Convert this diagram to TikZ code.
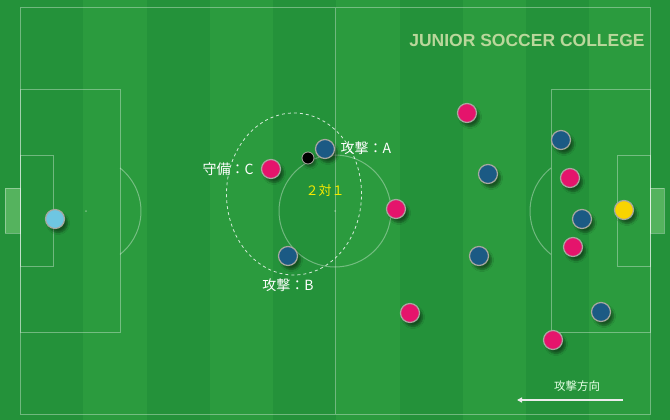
\documentclass[tikz,border=0pt]{standalone}
\usepackage{fontspec}
\setmainfont{Liberation Sans}
\newfontfamily\jpfont{Noto Sans CJK JP}
\usetikzlibrary{arrows.meta, shadows.blur}

\definecolor{grassA}{HTML}{2B9B3E}
\definecolor{grassB}{HTML}{24923A}
\definecolor{goalgreen}{HTML}{55B35E}
\definecolor{defpink}{HTML}{E5146C}
\definecolor{atkblue}{HTML}{1B5A84}
\definecolor{keeperblue}{HTML}{6EC6E2}
\definecolor{keeperyellow}{HTML}{F8D400}
\definecolor{rimgray}{HTML}{A8A8A0}
\definecolor{titlegreen}{HTML}{BAD79B}
\definecolor{tagyellow}{HTML}{F6EA00}

\tikzset{
  pitchline/.style={white, opacity=.35, line width=1pt},
  player/.style={circle, draw=rimgray, line width=1.2pt, minimum size=19pt,
    inner sep=0pt, blur shadow={shadow xshift=3pt, shadow yshift=-4pt,
    shadow opacity=45, shadow blur steps=6}},
  tag/.style={text=white, font=\jpfont\fontsize{14}{16}\selectfont, inner sep=0pt},
}

\begin{document}
\begin{tikzpicture}[x=1pt, y=-1pt, >=Stealth, line width=.7pt]
          % grass
          \fill [grassA] (0, 0) rectangle (670, 420);
          \foreach \k in {0, ..., 4}
            \fill [grassB] (20 + 126.5*\k, 0) rectangle (83 + 126.5*\k, 420);
          \fill [grassB] (0, 0) rectangle (20, 420);
          \fill [grassB] (650, 0) rectangle (670, 420);

          % goals
          \fill [goalgreen] (5, 188) rectangle (20, 233);
          \fill [goalgreen] (650, 188) rectangle (664, 233);
          \draw [pitchline] (5, 188) rectangle (20, 233);
          \draw [pitchline] (650, 188) rectangle (664, 233);

          % lines
          \draw [pitchline] (20, 8) rectangle (650, 414);
          \draw [pitchline] (335, 8) -- (335, 414);
          \draw [pitchline] (335, 211) circle [radius=56pt];
          \draw [pitchline] (20, 90) rectangle (120, 332);
          \draw [pitchline] (20, 155) rectangle (53, 266);
          \draw [pitchline] (551, 90) rectangle (650, 332);
          \draw [pitchline] (617, 155) rectangle (650, 266);
          \draw [pitchline] (120, 168) arc [start angle=51.8, end angle=-51.8, radius=55pt];
          \draw [pitchline] (551, 168) arc [start angle=128.2, end angle=231.8, radius=55pt];
          \fill [white, opacity=.35] (86, 211) circle [radius=1pt];
          \fill [white, opacity=.35] (584, 211) circle [radius=1pt];
          \fill [white, opacity=.35] (335, 211) circle [radius=1pt];

          % 2 vs 1 zone
          \draw [white, opacity=.8, dashed, line width=.8pt] (294, 194) ellipse [x radius=67.5pt, y radius=81pt];

          % players
          \node [player, fill=keeperblue] (gkL) at (55, 219) {};
          \node [player, fill=keeperyellow] (gkR) at (624, 210) {};
          \node [player, fill=atkblue] (A) at (325, 149) {};
          \node [player, fill=atkblue] (B) at (288, 256) {};
          \node [player, fill=defpink] (C) at (271, 169) {};
          \node [circle, fill=black, draw=rimgray, line width=.8pt, minimum size=12pt, inner sep=0pt,
            blur shadow={shadow xshift=2pt, shadow yshift=-3pt, shadow opacity=40}] (ball) at (308, 158) {};

          \node [player, fill=defpink] (p1) at (396, 209) {};
          \node [player, fill=defpink] (p2) at (467, 113) {};
          \node [player, fill=defpink] (p3) at (410, 313) {};
          \node [player, fill=defpink] (p4) at (570, 178) {};
          \node [player, fill=defpink] (p5) at (573, 247) {};
          \node [player, fill=defpink] (p6) at (553, 340) {};
          \node [player, fill=atkblue] (b1) at (488, 174) {};
          \node [player, fill=atkblue] (b2) at (479, 256) {};
          \node [player, fill=atkblue] (b3) at (561, 140) {};
          \node [player, fill=atkblue] (b4) at (582, 219) {};
          \node [player, fill=atkblue] (b5) at (601, 312) {};

          % labels
          \node [tag] (tagA) at (366, 148) {攻撃：A};
          \node [tag] (tagB) at (288, 285) {攻撃：B};
          \node [tag] (tagC) at (228, 169) {守備：C};
          \node [tag, text=tagyellow, font=\jpfont\fontsize{13}{15}\selectfont] (vs) at (325, 191) {２対１};

          \node [text=titlegreen, font=\bfseries\fontsize{17.5}{20}\selectfont, inner sep=0pt] (title) at (527, 40) {JUNIOR SOCCER COLLEGE};

          % direction of attack
          \node [tag, text=white!90!green, font=\jpfont\fontsize{11.5}{13}\selectfont] (dir) at (577, 386) {攻撃方向};
          \coordinate (dirS) at (623, 400);
          \coordinate (dirE) at (517, 400);
          \draw [-{Triangle[length=5pt, width=5pt]}, white!85!gray, line width=1.6pt] (dirS) -- (dirE);

      \end{tikzpicture}
\end{document}
